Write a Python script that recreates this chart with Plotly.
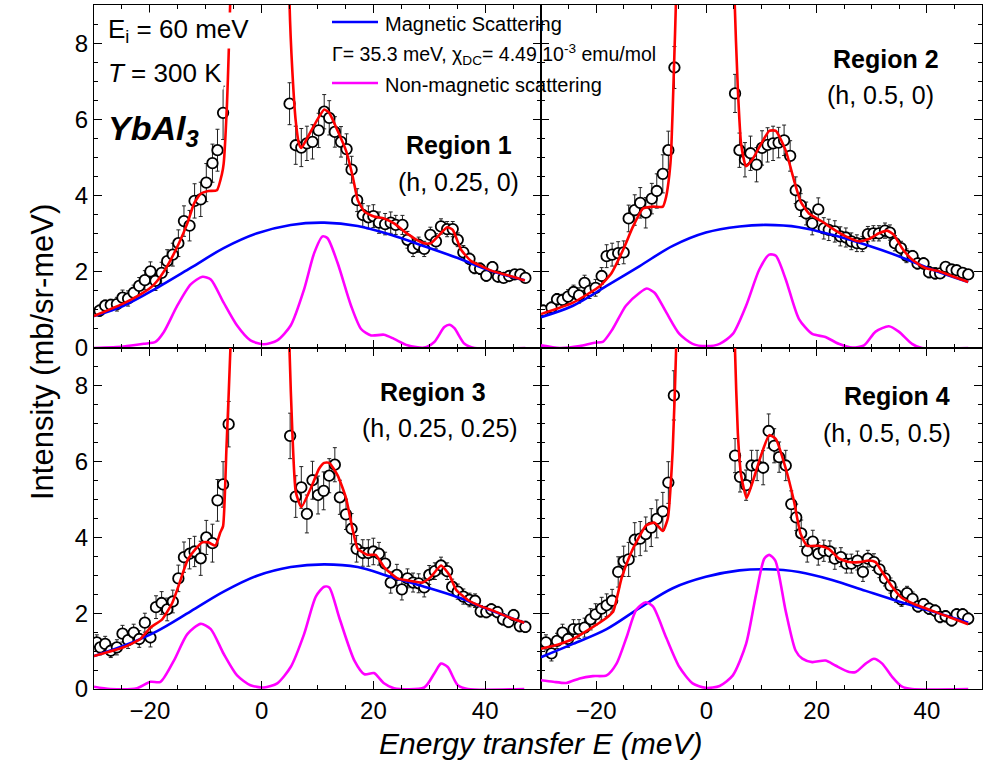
import plotly.graph_objects as go
from plotly.subplots import make_subplots

# ---------------- Region 1 (h, 0.25, 0) ----------------
r1_E = [-29.0, -28.0, -27.0, -25.9, -24.9, -23.9, -22.9, -21.9, -20.9, -19.9, -19.0, -17.9, -16.9, -15.9,
        -14.9, -13.9, -12.9, -12.0, -10.9, -9.9, -8.8, -7.9, -6.9,
        5.0, 6.1, 7.1, 8.1, 9.1, 10.2, 11.2, 12.1, 13.1, 14.2, 15.2, 16.1, 17.1, 18.1, 19.1, 20.0, 21.0,
        22.1, 23.1, 24.0, 25.2, 26.1, 27.1, 28.1, 29.1, 30.2, 31.2, 32.1, 33.2, 34.2, 35.1, 36.1, 37.2,
        38.1, 39.1, 40.2, 41.3, 42.3, 43.3, 44.3, 45.3, 46.3, 47.2]
r1_I = [0.98, 1.11, 1.13, 1.15, 1.32, 1.30, 1.45, 1.63, 1.78, 2.01, 1.76, 1.97, 2.28, 2.45,
        2.75, 3.33, 3.21, 3.86, 3.90, 4.34, 4.85, 5.19, 6.17,
        6.41, 5.32, 5.26, 5.37, 5.41, 5.71, 6.20, 6.04, 5.67, 5.41, 5.22, 4.68, 3.88, 3.49, 3.43, 3.46, 3.29,
        3.25, 3.29, 3.23, 3.23, 2.84, 2.62, 2.71, 2.60, 2.97, 2.80, 3.19, 3.12, 3.12, 2.84, 2.51, 2.34,
        2.10, 2.08, 1.90, 2.12, 1.87, 1.84, 1.89, 1.93, 1.93, 1.84]
r1_err = [0.15, 0.15, 0.15, 0.18, 0.2, 0.2, 0.2, 0.22, 0.25, 0.25, 0.25, 0.28, 0.3, 0.3,
          0.35, 0.4, 0.4, 0.45, 0.45, 0.5, 0.5, 0.55, 0.7,
          0.55, 0.5, 0.5, 0.45, 0.45, 0.45, 0.45, 0.45, 0.4, 0.4, 0.4, 0.35, 0.3, 0.3, 0.3, 0.3, 0.28,
          0.28, 0.28, 0.25, 0.25, 0.22, 0.22, 0.2, 0.2, 0.2, 0.2, 0.2, 0.2, 0.2, 0.18, 0.18, 0.15,
          0.15, 0.15, 0.15, 0.15, 0.12, 0.12, 0.12, 0.12, 0.12, 0.12]
r1_fitE = [-30, -25, -22, -19.9, -18.7, -16.9, -14.8, -13.3, -12.1, -10.9, -9.5, -8.0, -7.1, -6.8, -6.2,
           -5.9, -5.6, -5.0, 4.6, 5.0, 5.5, 6.1, 6.7, 7.1, 8.2, 10.0, 11.2, 12.1, 13.6, 15.1, 16.3, 17.2,
           18.4, 20.1, 21.9, 23.7, 25.5, 27.3, 29.1, 30.3, 31.8, 33.2, 34.2, 35.7, 37.5, 39.3, 41.1, 43.5,
           45.3, 47.1]
r1_fit = [0.84, 1.15, 1.38, 1.58, 1.76, 2.15, 2.75, 3.27, 3.79, 4.05, 4.12, 4.14, 4.57, 4.83, 6.4,
          7.7, 9.2, 14, 14, 9.0, 7.26, 5.96, 5.35, 5.25, 5.52, 6.0, 6.26, 6.17, 5.70, 5.18, 4.5, 3.88,
          3.58, 3.45, 3.40, 3.27, 3.06, 2.88, 2.75, 2.75, 2.97, 3.17, 3.10, 2.58, 2.28, 2.15, 2.03, 1.93,
          1.86, 1.77]
r1_magE = [-30, -24.7, -18.7, -12.7, -6.8, -0.8, 5.2, 11.2, 17.2, 23.1, 29.1, 35.1, 41.1, 47.1]
r1_mag = [0.84, 1.11, 1.58, 2.10, 2.62, 3.01, 3.23, 3.29, 3.20, 2.97, 2.67, 2.36, 2.02, 1.78]
r1_nmE = [-30, -24.7, -21.1, -19.0, -17.5, -15.1, -12.7, -10.6, -9.1, -6.8, -4.4, -2.0, 0.4, 2.8, 5.2,
          7.6, 9.4, 10.9, 11.8, 13.6, 16.0, 17.8, 19.6, 21.9, 23.7, 26.1, 29.1, 30.9, 32.7, 33.6, 34.5,
          36.3, 38.1, 47.2]
r1_nm = [0.0, 0.04, 0.11, 0.16, 0.42, 1.11, 1.67, 1.87, 1.80, 1.19, 0.59, 0.2, 0.10, 0.2, 0.59,
         1.54, 2.49, 2.93, 2.88, 2.23, 1.11, 0.50, 0.33, 0.35, 0.24, 0.07, 0.01, 0.16, 0.55, 0.61, 0.52,
         0.11, 0.0, 0.0]

# ---------------- Region 2 (h, 0.5, 0) ----------------
r2_E = [-29.6, -28.1, -27.1, -26.1, -25.1, -24.1, -23.1, -22.1, -21.2, -20.1, -19.0, -18.1, -17.1, -16.0,
        -15.0, -14.1, -13.0, -12.0, -11.0, -9.9, -9.0, -7.9, -6.9, -5.8,
        5.2, 6.0, 7.0, 8.0, 9.1, 10.1, 11.1, 12.1, 13.1, 14.1, 15.2, 16.2, 17.1, 18.1, 19.2, 20.3, 21.3,
        22.2, 23.3, 24.3, 25.3, 26.3, 27.3, 28.3, 29.3, 30.3, 31.3, 32.4, 33.3, 34.2, 35.3, 36.3, 37.4,
        38.3, 39.4, 40.4, 41.5, 42.4, 43.4, 44.5, 45.4, 46.5, 47.5]
r2_I = [0.98, 1.06, 1.28, 1.26, 1.35, 1.47, 1.38, 1.71, 1.50, 1.58, 1.89, 2.41, 2.45, 2.49,
        2.51, 3.40, 3.62, 3.81, 3.55, 3.92, 4.12, 4.57, 5.19, 7.36,
        6.68, 5.19, 4.94, 5.11, 4.81, 5.25, 5.33, 5.37, 5.39, 5.45, 5.04, 4.14, 3.75, 3.53, 3.27, 3.64, 3.14,
        3.10, 3.06, 2.93, 2.90, 2.80, 2.75, 2.73, 2.99, 3.01, 3.01, 3.08, 3.03, 2.75, 2.62, 2.42, 2.41,
        2.22, 2.22, 1.99, 1.96, 1.96, 2.13, 2.06, 2.04, 1.97, 1.93]
r2_err = [0.15, 0.15, 0.15, 0.15, 0.18, 0.18, 0.2, 0.2, 0.2, 0.22, 0.22, 0.3, 0.3, 0.3,
          0.3, 0.35, 0.4, 0.4, 0.4, 0.4, 0.45, 0.5, 0.5, 0.55,
          0.5, 0.45, 0.45, 0.45, 0.45, 0.45, 0.45, 0.45, 0.4, 0.4, 0.4, 0.35, 0.3, 0.3, 0.3, 0.3, 0.28,
          0.28, 0.28, 0.25, 0.25, 0.22, 0.22, 0.2, 0.2, 0.2, 0.2, 0.2, 0.2, 0.2, 0.18, 0.18, 0.15,
          0.15, 0.15, 0.15, 0.15, 0.12, 0.12, 0.12, 0.12, 0.12, 0.12]
r2_fitE = [-30, -24.2, -19.3, -17.2, -15.1, -13.3, -11.5, -9.7, -7.9, -7.3, -6.7, -6.4, -5.9, -5.5, -5.0,
           4.6, 5.1, 5.7, 6.3, 7.2, 8.4, 9.9, 11.4, 12.6, 14.4, 15.9, 17.1, 18.6, 21.0, 22.8, 25.3, 27.7,
           29.5, 31.3, 32.8, 34.0, 35.5, 37.3, 39.7, 42.1, 44.5, 47.5]
r2_fit = [0.89, 1.19, 1.63, 1.97, 2.58, 3.19, 3.66, 3.71, 3.71, 3.97, 4.57, 5.09, 7.26, 9.2, 14,
          14, 9.2, 6.82, 5.35, 4.77, 4.96, 5.35, 5.70, 5.70, 5.18, 4.40, 3.84, 3.53, 3.32, 3.14, 2.93, 2.80,
          2.86, 3.01, 3.08, 2.97, 2.62, 2.32, 2.10, 2.02, 1.89, 1.73]
r2_magE = [-30, -24.2, -18.1, -12.1, -6.1, -0.1, 6.0, 10.8, 16.8, 22.8, 28.9, 34.9, 40.9, 47.5]
r2_mag = [0.81, 1.11, 1.63, 2.15, 2.68, 3.03, 3.19, 3.23, 3.17, 2.97, 2.71, 2.41, 2.06, 1.73]
r2_nmE = [-30, -26.6, -23, -20.3, -18.8, -17.0, -14.6, -12.1, -10.8, -9.4, -7.3, -4.9, -2.5, 0, 2.4,
          4.8, 7.2, 9.6, 11.4, 12.6, 14.4, 16.8, 19.2, 21.6, 24.0, 26.5, 28.6, 30.7, 33.1, 34.9, 37.3,
          39.1, 47.5]
r2_nm = [0.07, 0.0, 0.05, 0.14, 0.16, 0.5, 1.11, 1.45, 1.56, 1.45, 0.94, 0.37, 0.11, 0.05, 0.11,
         0.37, 1.11, 2.06, 2.45, 2.42, 1.80, 0.76, 0.37, 0.29, 0.11, 0.01, 0.07, 0.43, 0.57, 0.43, 0.11,
         0.0, 0.0]

# ---------------- Region 3 (h, 0.25, 0.25) ----------------
r3_E = [-29.5, -28.9, -28.0, -27.0, -25.9, -24.9, -23.9, -22.9, -21.9, -20.9, -19.9, -18.9, -17.9, -16.9,
        -15.9, -14.9, -13.9, -12.9, -12.0, -10.9, -9.9, -8.8, -7.9, -6.9, -5.9,
        5.1, 6.1, 7.1, 8.1, 9.1, 10.1, 11.1, 12.1, 13.1, 14.0, 15.1, 16.1, 17.0, 18.1, 19.1, 20.0, 21.0,
        22.1, 23.1, 24.2, 25.1, 26.1, 27.1, 28.1, 29.1, 30.0, 31.0, 32.1, 33.2, 34.1, 35.1, 36.1, 37.2,
        38.2, 39.2, 40.2, 41.1, 42.2, 43.2, 44.2, 45.1, 46.2, 47.2]
r3_I = [1.23, 1.10, 1.19, 1.01, 1.10, 1.46, 1.29, 1.49, 1.32, 1.75, 1.36, 2.16, 2.27, 2.10,
        2.31, 2.92, 3.48, 3.57, 3.63, 3.45, 4.00, 3.85, 4.98, 5.40, 6.99,
        6.68, 5.08, 5.32, 4.62, 5.51, 5.12, 5.23, 5.63, 5.92, 5.06, 4.61, 4.23, 3.70, 3.59, 3.59, 3.63, 3.57,
        3.31, 2.81, 3.01, 2.63, 2.92, 2.81, 2.79, 2.68, 3.01, 3.11, 3.26, 3.11, 2.70, 2.57, 2.44, 2.35,
        2.33, 2.05, 2.03, 2.10, 2.03, 1.84, 1.77, 1.95, 1.66, 1.64]
r3_err = [0.2, 0.2, 0.2, 0.18, 0.2, 0.22, 0.22, 0.22, 0.22, 0.25, 0.25, 0.3, 0.3, 0.3,
          0.3, 0.35, 0.4, 0.4, 0.4, 0.45, 0.45, 0.5, 0.55, 0.6, 0.6,
          0.6, 0.55, 0.55, 0.5, 0.5, 0.5, 0.5, 0.45, 0.45, 0.45, 0.4, 0.4, 0.35, 0.35, 0.35, 0.35, 0.3,
          0.3, 0.28, 0.28, 0.28, 0.25, 0.25, 0.25, 0.25, 0.25, 0.22, 0.22, 0.22, 0.2, 0.2, 0.2, 0.18,
          0.18, 0.15, 0.15, 0.15, 0.15, 0.15, 0.15, 0.15, 0.15, 0.15]
r3_fitE = [-30, -24.7, -21.7, -19.9, -17.8, -16.0, -14.8, -13.3, -11.8, -10.6, -9.5, -8.3, -7.4, -6.9,
           -6.3, -5.6, -5.0, 4.6, 5.0, 5.5, 6.1, 7.1, 8.8, 10.3, 11.2, 12.1, 13.6, 15.1, 16.3, 17.2, 19.0,
           20.4, 21.9, 24.3, 26.7, 28.8, 30.3, 32.1, 33.6, 34.8, 36.9, 39.3, 41.7, 44.1, 47.0]
r3_fit = [0.87, 1.10, 1.32, 1.62, 1.84, 2.27, 2.75, 3.39, 3.70, 3.87, 3.87, 3.78, 4.13, 4.3,
          6.34, 8.94, 14, 14, 8.9, 6.77, 5.21, 4.80, 5.30, 5.82, 5.97, 5.97, 5.64, 5.04, 4.2, 3.70, 3.54,
          3.54, 3.22, 2.92, 2.85, 2.81, 2.96, 3.26, 3.01, 2.62, 2.35, 2.18, 2.05, 1.90, 1.75]
r3_magE = [-30, -24.7, -18.7, -12.7, -6.8, -0.8, 5.2, 11.2, 17.2, 23.1, 29.1, 35.1, 41.1, 47.0]
r3_mag = [0.87, 1.14, 1.53, 2.05, 2.57, 2.99, 3.22, 3.29, 3.22, 2.96, 2.70, 2.42, 2.07, 1.75]
r3_nmE = [-30, -27.1, -22.3, -19.9, -18.1, -15.7, -13.3, -10.9, -9.1, -6.8, -4.4, -2.0, 0.4, 2.8, 5.2,
          7.6, 9.7, 11.2, 12.1, 13.9, 16.6, 18.4, 20.1, 21.9, 23.7, 29.1, 30.9, 32.1, 33.3, 35.1, 36.9,
          47.0]
r3_nm = [0.06, 0.0, 0.02, 0.19, 0.19, 0.75, 1.45, 1.72, 1.58, 0.93, 0.36, 0.10, 0.04, 0.15, 0.58,
         1.45, 2.44, 2.70, 2.68, 1.88, 0.75, 0.39, 0.42, 0.15, 0.02, 0.04, 0.41, 0.67, 0.58, 0.10, 0.0,
         0.0]

# ---------------- Region 4 (h, 0.5, 0.5) ----------------
r4_E = [-29.1, -28.1, -27.1, -26.1, -25.1, -24.1, -23.1, -22.1, -21.0, -20.1, -19.0, -18.1, -17.1, -16.0,
        -15.0, -14.1, -13.0, -12.0, -11.0, -10.0, -9.0, -7.9, -6.9, -5.9,
        5.2, 6.1, 7.2, 8.2, 9.2, 10.3, 11.3, 12.3, 13.2, 14.4, 15.4, 16.3, 17.2, 18.3, 19.3, 20.3, 21.3,
        22.4, 23.3, 24.4, 25.4, 26.3, 27.4, 28.4, 29.3, 30.4, 31.4, 32.4, 33.4, 34.4, 35.4, 36.4, 37.4,
        38.4, 39.4, 40.4, 41.5, 42.4, 43.4, 44.5, 45.4, 46.5, 47.5]
r4_I = [1.23, 0.94, 1.27, 1.49, 1.32, 1.58, 1.58, 1.62, 1.84, 1.97, 2.12, 2.21, 2.33, 3.09,
        3.37, 3.42, 3.94, 3.97, 4.09, 4.26, 4.49, 4.69, 5.45, 7.75,
        6.16, 5.60, 5.38, 5.90, 5.90, 5.84, 6.81, 6.42, 6.12, 5.90, 4.88, 4.53, 4.11, 3.65, 3.89, 3.57, 3.65,
        3.63, 3.44, 3.48, 3.31, 3.31, 3.39, 3.09, 3.44, 3.35, 3.16, 2.92, 2.73, 2.49, 2.36, 2.53, 2.38,
        2.18, 2.24, 2.12, 2.07, 1.90, 1.92, 1.81, 1.97, 1.97, 1.86]
r4_err = [0.2, 0.2, 0.2, 0.22, 0.22, 0.25, 0.25, 0.25, 0.28, 0.28, 0.3, 0.3, 0.3, 0.4,
          0.4, 0.45, 0.45, 0.45, 0.45, 0.5, 0.5, 0.5, 0.55, 0.65,
          0.45, 0.4, 0.4, 0.4, 0.4, 0.45, 0.45, 0.45, 0.4, 0.4, 0.35, 0.35, 0.35, 0.3, 0.3, 0.3, 0.28,
          0.28, 0.28, 0.25, 0.25, 0.25, 0.25, 0.25, 0.22, 0.22, 0.22, 0.2, 0.2, 0.2, 0.18, 0.18, 0.18,
          0.15, 0.15, 0.15, 0.15, 0.15, 0.15, 0.15, 0.15, 0.15, 0.15]
r4_fitE = [-30, -26.6, -24.2, -21.2, -18.1, -16.9, -15.4, -13.9, -12.4, -10.9, -9.4, -7.9, -7.0, -6.1,
           -5.5, -5.0, 4.6, 5.2, 5.7, 6.3, 7.3, 8.4, 9.9, 11.4, 12.6, 14.4, 15.9, 17.1, 18.3, 20.4, 22.2,
           24.0, 25.9, 27.7, 29.5, 30.7, 31.9, 33.7, 35.5, 37.9, 40.3, 42.7, 45.1, 47.5]
r4_fit = [1.06, 1.19, 1.32, 1.58, 1.88, 2.05, 2.92, 3.52, 3.96, 4.32, 4.39, 4.17, 4.5, 6.34,
          8.93, 14, 14, 8.9, 6.77, 5.64, 5.04, 5.47, 6.16, 6.70, 6.60, 5.82, 4.95, 4.09, 3.78, 3.78, 3.70,
          3.45, 3.35, 3.35, 3.39, 3.35, 3.09, 2.70, 2.40, 2.23, 2.10, 1.97, 1.84, 1.71]
r4_magE = [-30, -24.2, -18.1, -12.1, -6.1, -0.1, 6.0, 10.8, 16.8, 22.8, 28.9, 34.9, 40.9, 47.5]
r4_mag = [0.84, 1.19, 1.58, 2.14, 2.66, 2.96, 3.13, 3.16, 3.09, 2.88, 2.59, 2.31, 2.05, 1.75]
r4_nmE = [-30, -27.8, -25.4, -23.0, -20.6, -18.1, -16.3, -14.5, -12.7, -11.0, -9.7, -7.3, -4.9, -2.5,
          -0.1, 2.4, 4.8, 7.2, 9.0, 10.5, 11.4, 12.5, 14.4, 16.2, 17.4, 19.2, 21.6, 23.4, 25.9, 27.1,
          28.9, 30.4, 31.9, 33.7, 35.5, 37.3, 47.5]
r4_nm = [0.23, 0.19, 0.16, 0.28, 0.34, 0.36, 0.67, 1.36, 2.10, 2.29, 2.18, 1.36, 0.58, 0.15,
         0.03, 0.08, 0.36, 1.19, 2.49, 3.44, 3.54, 3.39, 2.05, 1.01, 0.80, 0.71, 0.75, 0.62, 0.45, 0.45,
         0.67, 0.80, 0.67, 0.32, 0.06, 0.0, 0.0]

regions = [
    (1, 1, r1_E, r1_I, r1_err, r1_fitE, r1_fit, r1_magE, r1_mag, r1_nmE, r1_nm),
    (1, 2, r2_E, r2_I, r2_err, r2_fitE, r2_fit, r2_magE, r2_mag, r2_nmE, r2_nm),
    (2, 1, r3_E, r3_I, r3_err, r3_fitE, r3_fit, r3_magE, r3_mag, r3_nmE, r3_nm),
    (2, 2, r4_E, r4_I, r4_err, r4_fitE, r4_fit, r4_magE, r4_mag, r4_nmE, r4_nm),
]

x_ticks = [-20, 0, 20, 40]
y_ticks = [0, 2, 4, 6, 8]

FONT = "Liberation Sans, Arial, sans-serif"
RED, BLUE, MAG = "#ff0000", "#0000ff", "#ff00ff"

fig = make_subplots(rows=2, cols=2, horizontal_spacing=0, vertical_spacing=0)

for (r, c, E, I, err, fE, fI, mE, mI, nE, nI) in regions:
    fig.add_trace(go.Scatter(
        x=E, y=I, mode="markers",
        marker=dict(symbol="circle", size=10.5, color="white", line=dict(color="black", width=1.8)),
        error_y=dict(type="data", array=err, visible=True, color="#222222", thickness=1, width=2),
        showlegend=False), row=r, col=c)
    fig.add_trace(go.Scatter(x=mE, y=mI, mode="lines", line=dict(color=BLUE, width=2.6, shape="spline", smoothing=1.0),
                             showlegend=False), row=r, col=c)
    fig.add_trace(go.Scatter(x=nE, y=nI, mode="lines", line=dict(color=MAG, width=2.6, shape="spline", smoothing=0.7),
                             showlegend=False), row=r, col=c)
    fig.add_trace(go.Scatter(x=fE, y=fI, mode="lines", line=dict(color=RED, width=2.6, shape="spline", smoothing=0.5),
                             showlegend=False), row=r, col=c)

XSPLIT = 0.5034
YSPLIT = 0.4985
axis_common = dict(showline=True, linecolor="black", linewidth=1.1, mirror="ticks", ticks="inside",
                   ticklen=8, tickwidth=1.1, tickcolor="black", showgrid=False, zeroline=False,
                   tickfont=dict(family=FONT, size=24, color="black"))
for r in (1, 2):
    for c in (1, 2):
        xd = [0, XSPLIT] if c == 1 else [XSPLIT, 1]
        yd = [YSPLIT, 1] if r == 1 else [0, YSPLIT]
        fig.update_xaxes(axis_common, domain=xd, range=[-30, 50], tickvals=x_ticks,
                         showticklabels=(r == 2),
                         minor=dict(ticks="inside", dtick=5, ticklen=4, tickwidth=1, tickcolor="black", showgrid=False),
                         row=r, col=c)
        fig.update_yaxes(axis_common, domain=yd, range=[0, 9], tickvals=y_ticks,
                         showticklabels=(c == 1),
                         minor=dict(ticks="inside", dtick=0.5, ticklen=4, tickwidth=1, tickcolor="black", showgrid=False),
                         row=r, col=c)

W, H = 983, 763
ML, MR, MT, MB = 94, 1, 5, 74
PW, PH = W - ML - MR, H - MT - MB


def px(x):
    return (x - ML) / PW


def py(y):
    return (H - MB - y) / PH


ann = []


def txt(text, x, y, size, xanchor="center", bg=None, angle=0):
    d = dict(text=text, x=px(x), y=py(y), xref="paper", yref="paper", showarrow=False,
             xanchor=xanchor, yanchor="middle", textangle=angle,
             font=dict(family=FONT, size=size, color="black"))
    if bg:
        d["bgcolor"] = bg
    ann.append(d)


txt("E<sub>i</sub> = 60 meV", 106, 31, 26, xanchor="left", bg="white")
txt("<i>T</i> = 300 K", 106, 73, 26, xanchor="left", bg="white")
txt("<b><i>YbAl<sub>3</sub></i></b>", 106, 130, 34, xanchor="left")

txt("<b>Region 1</b>", 459, 145, 25)
txt("(h, 0.25, 0)", 458, 182, 25)
txt("<b>Region 2</b>", 886, 59, 25)
txt("(h, 0.5, 0)", 880, 95, 25)
txt("<b>Region 3</b>", 433, 392, 25)
txt("(h, 0.25, 0.25)", 440, 428, 25)
txt("<b>Region 4</b>", 897, 396, 25)
txt("(h, 0.5, 0.5)", 887, 433, 25)

txt("Magnetic Scattering", 383, 24, 20, xanchor="left")
txt("Γ= 35.3 meV, χ<sub>DC</sub>= 4.49 10<sup>-3</sup> emu/mol", 330, 55, 19.5, xanchor="left")
txt("Non-magnetic scattering", 383, 85, 20, xanchor="left")

txt("<i>Energy transfer E (meV)</i>", 540, 743, 30)
txt("Intensity (mb/sr-meV)", 42, 352, 31, angle=-90)

shapes = [
    dict(type="line", xref="paper", yref="paper", x0=px(332), x1=px(378), y0=py(22), y1=py(22),
         line=dict(color=BLUE, width=2.6)),
    dict(type="line", xref="paper", yref="paper", x0=px(332), x1=px(378), y0=py(83), y1=py(83),
         line=dict(color=MAG, width=2.6)),
]

fig.update_layout(width=W, height=H, margin=dict(l=ML, r=MR, t=MT, b=MB),
                  plot_bgcolor="white", paper_bgcolor="white",
                  font=dict(family=FONT, color="black"),
                  annotations=ann, shapes=shapes, showlegend=False)

fig.write_html("out.html")
